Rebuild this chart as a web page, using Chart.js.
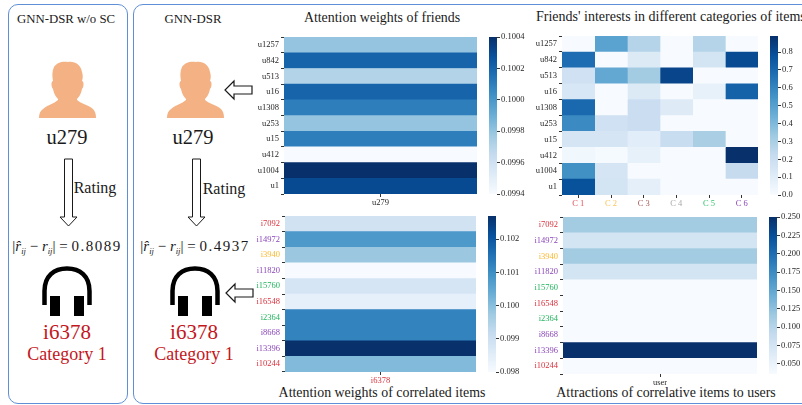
<!DOCTYPE html>
<html>
<head>
<meta charset="utf-8">
<title>GNN-DSR case study</title>
<script src="https://cdn.jsdelivr.net/npm/chart.js@4"></script>
<style>
    html, body { margin: 0; padding: 0; background: #fff; }
    body { position: relative; width: 802px; height: 405px; overflow: hidden; font-family: "Liberation Serif", serif; color: #1a1a1a; }
    canvas { position: absolute; }
    svg { position: absolute; overflow: visible; }
    .panel { position: absolute; border: 1px solid #5f8fd6; border-radius: 10px; box-sizing: border-box; }
    .t { position: absolute; white-space: nowrap; transform: translate(-50%, -50%); }
    .red { color: #c3171d; }
    .formula { font-size: 15px; }
    .formula sub { font-size: 8.5px; font-style: italic; vertical-align: -3px; line-height: 0; }
    .formula b { font-weight: normal; letter-spacing: 1.5px; }
</style>
</head>
<body>
<div class="panel" style="left:8px;top:4px;width:120px;height:400px"></div>
<div class="panel" style="left:133px;top:4px;width:690px;height:400px"></div>

<div class="t" style="left:66px;top:19px;font-size:12.8px">GNN-DSR w/o SC</div>
<div class="t" style="left:193px;top:19px;font-size:12.8px">GNN-DSR</div>
<div class="t" style="left:382px;top:18px;font-size:13.9px">Attention weights of friends</div>
<div class="t" style="left:536px;top:17px;font-size:14px;transform:translate(0,-50%)">Friends' interests in different categories of items</div>
<div class="t" style="left:382px;top:393px;font-size:13.9px">Attention weights of correlated items</div>
<div class="t" style="left:666px;top:393px;font-size:13.9px">Attractions of correlative items to users</div>

<div class="t" style="left:67px;top:137px;font-size:20.5px">u279</div>
<div class="t" style="left:193px;top:137px;font-size:20.5px">u279</div>
<div class="t" style="left:95px;top:188px;font-size:16px">Rating</div>
<div class="t" style="left:224px;top:189px;font-size:16px">Rating</div>
<div class="t formula" style="left:67px;top:246px">|<i>r&#770;</i><sub>ij</sub> &minus; <i>r</i><sub>ij</sub>| = <b>0.8089</b></div>
<div class="t formula" style="left:195px;top:246px">|<i>r&#770;</i><sub>ij</sub> &minus; <i>r</i><sub>ij</sub>| = <b>0.4937</b></div>
<div class="t red" style="left:67px;top:332px;font-size:21px">i6378</div>
<div class="t red" style="left:194px;top:332px;font-size:21px">i6378</div>
<div class="t red" style="left:67px;top:354px;font-size:18px">Category 1</div>
<div class="t red" style="left:194px;top:354px;font-size:18px">Category 1</div>

<svg width="0" height="0">
    <defs>
        <g id="person">
            <path fill="#f4b183" d="M15 6 C18 1 24 0 29 1 C36 0 42 4 43 11 C44 14 44 17 43 20 C45 20 45 26 43 28 C42 33 40 36 38 38 L38 39 C42 43 50 44 54 48 C56 50 57 53 57 57 L0 57 C0 53 1 50 4 48 C8 44 15 43 19 39 L19 38 C17 36 15 33 14 28 C12 26 12 20 14 20 C13 15 13 10 15 6 Z"/>
        </g>
        <g id="phones">
            <path fill="none" stroke="#000" stroke-width="4.5" d="M2.5 39 L2.5 25 C2.5 10 12 2.500 25 2.500 C38 2.500 47.500 10 47.500 25 L47.500 39"/>
            <rect x="8" y="30" width="10" height="20" fill="#000"/>
            <rect x="32" y="30" width="10" height="20" fill="#000"/>
        </g>
        <path id="down" fill="#fff" stroke="#1a1a1a" stroke-width="1" d="M4.500 0 L12.500 0 L12.500 58 L17 58 L8.500 67 L0 58 L4.500 58 Z"/>
        <path id="left" fill="#fff" stroke="#1a1a1a" stroke-width="1.2" d="M27 5 L9 5 L9 0 L0 9 L9 18 L9 13 L27 13 Z"/>
    </defs>
</svg>
<svg style="left:39px;top:61px" width="57" height="57"><use href="#person"/></svg>
<svg style="left:167px;top:61px" width="57" height="57"><use href="#person"/></svg>
<svg style="left:59.500px;top:159px" width="17" height="67"><use href="#down"/></svg>
<svg style="left:187.500px;top:159px" width="17" height="67"><use href="#down"/></svg>
<svg style="left:42px;top:266px" width="50" height="50"><use href="#phones"/></svg>
<svg style="left:170px;top:266px" width="50" height="50"><use href="#phones"/></svg>
<svg style="left:225px;top:81px" width="27" height="18"><use href="#left"/></svg>
<svg style="left:225.500px;top:284px" width="27" height="18"><use href="#left"/></svg>

<script>
const friendLabels = ['u1257', 'u842', 'u513', 'u16', 'u1308', 'u253', 'u15', 'u412', 'u1004', 'u1'];
const itemLabels = ['i7092', 'i14972', 'i3940', 'i11820', 'i15760', 'i16548', 'i2364', 'i8668', 'i13396', 'i10244'];
const categoryLabels = ['C 1', 'C 2', 'C 3', 'C 4', 'C 5', 'C 6'];

const categoryColors = ['#e2505a', '#fbc45a', '#a65a5a', '#a9a9a9', '#35c46c', '#8a47b8'];
const itemColors = ['#d9303c', '#8a47b8', '#fbb82e', '#8a47b8', '#22b35e', '#d9303c', '#22b35e', '#8a47b8', '#8a47b8', '#d9303c'];

// friend attention, one column (u279)
const friendWeights = [0.09980, 0.10020, 0.09971, 0.10020, 0.10010, 0.09980, 0.10010, 0.09940, 0.10040, 0.10030];

// friends x categories
const friendInterests = [
    [0.00, 0.49, 0.27, 0.00, 0.27, 0.00],
    [0.68, 0.00, 0.12, 0.00, 0.16, 0.80],
    [0.18, 0.47, 0.32, 0.82, 0.00, 0.00],
    [0.14, 0.00, 0.12, 0.00, 0.07, 0.72],
    [0.70, 0.00, 0.20, 0.11, 0.00, 0.00],
    [0.58, 0.18, 0.20, 0.00, 0.00, 0.00],
    [0.15, 0.15, 0.10, 0.21, 0.30, 0.00],
    [0.03, 0.01, 0.07, 0.00, 0.00, 0.89],
    [0.56, 0.15, 0.00, 0.00, 0.00, 0.22],
    [0.78, 0.16, 0.08, 0.00, 0.00, 0.00]
];

// item attention, one column (i6378)
const itemWeights = [0.0989, 0.1008, 0.0998, 0.0980, 0.0988, 0.0984, 0.1012, 0.1012, 0.1027, 0.1001];

// item attraction to the user, one column
const itemAttractions = [0.113, 0.075, 0.113, 0.075, 0.036, 0.036, 0.036, 0.036, 0.250, 0.036];

const friendWeightTicks = [0.0994, 0.0996, 0.0998, 0.1000, 0.1002, 0.1004];
const interestTicks = [0, 0.1, 0.2, 0.3, 0.4, 0.5, 0.6, 0.7, 0.8];
const itemWeightTicks = [0.098, 0.099, 0.100, 0.101, 0.102];
const attractionTicks = [0.05, 0.075, 0.1, 0.125, 0.15, 0.175, 0.2, 0.225, 0.25];

// matplotlib Blues
const blues = ['#f7fbff', '#deebf7', '#c6dbef', '#9ecae1', '#6baed6', '#4292c6', '#2171b5', '#08519c', '#08306b'];

function hexToRgb(hex) {
    return [1, 3, 5].map(i => parseInt(hex.slice(i, i + 2), 16));
}

function bluesColor(t) {
    const p = Math.min(Math.max(t, 0), 1) * (blues.length - 1);
    const i = Math.min(Math.floor(p), blues.length - 2);
    const a = hexToRgb(blues[i]);
    const b = hexToRgb(blues[i + 1]);
    const c = a.map((v, k) => Math.round(v + (b[k] - v) * (p - i)));
    return `rgb(${c[0]},${c[1]},${c[2]})`;
}

const tickFont = { family: '"Liberation Serif", serif', size: 8.5 };
const LABEL_W = 40;
const LABEL_H = 20;
const PAD = 7;

function addCanvas(left, top, width, height) {
    const c = document.createElement('canvas');
    c.width = width;
    c.height = height;
    c.style.left = left + 'px';
    c.style.top = top + 'px';
    document.body.appendChild(c);
    return c.getContext('2d');
}

// heatmap = stacked horizontal bars of equal length, one dataset per column
function heatmap(box, rows, rowColors, cols, colColors, matrix, min, max) {
    const ctx = addCanvas(box.x - LABEL_W, box.y - PAD, box.w + LABEL_W, box.h + LABEL_H + PAD);
    const datasets = cols.map((col, c) => ({
        label: col,
        data: rows.map(() => 1),
        backgroundColor: rows.map((r, i) => bluesColor((matrix[i][c] - min) / (max - min))),
        borderWidth: 0,
        barPercentage: 1,
        categoryPercentage: 1
    }));
    new Chart(ctx, {
        type: 'bar',
        data: { labels: rows, datasets },
        options: {
            indexAxis: 'y',
            responsive: false,
            animation: false,
            layout: { padding: { top: PAD } },
            plugins: { legend: { display: false }, tooltip: { enabled: false } },
            scales: {
                x: {
                    stacked: true,
                    min: 0,
                    max: cols.length,
                    afterFit: s => { s.height = LABEL_H; },
                    afterBuildTicks: s => { s.ticks = cols.map((col, i) => ({ value: i + 0.5 })); },
                    border: { display: false },
                    grid: { drawOnChartArea: false, tickLength: 3, color: '#333' },
                    ticks: {
                        autoSkip: false,
                        maxRotation: 0,
                        padding: 1,
                        font: tickFont,
                        color: c => colColors[c.index],
                        callback: (v, i) => cols[i]
                    }
                },
                y: {
                    stacked: true,
                    afterFit: s => { s.width = LABEL_W; },
                    border: { display: false },
                    grid: { drawOnChartArea: false, tickLength: 3, color: '#333' },
                    ticks: {
                        autoSkip: false,
                        padding: 2,
                        font: tickFont,
                        color: c => rowColors[c.index]
                    }
                }
            }
        }
    });
}

// colorbar = one floating bar from min to max with a gradient fill
function colorbar(box, min, max, ticks, digits) {
    const ctx = addCanvas(box.x, box.y - PAD, box.w + 36, box.h + 2 * PAD);
    new Chart(ctx, {
        type: 'bar',
        data: {
            labels: ['scale'],
            datasets: [{
                data: [[min, max]],
                borderWidth: 0,
                barPercentage: 1,
                categoryPercentage: 1,
                backgroundColor: c => {
                    const area = c.chart.chartArea;
                    if (!area) return blues[4];
                    const g = c.chart.ctx.createLinearGradient(0, area.bottom, 0, area.top);
                    blues.forEach((b, i) => g.addColorStop(i / (blues.length - 1), b));
                    return g;
                }
            }]
        },
        options: {
            responsive: false,
            animation: false,
            layout: { padding: { top: PAD, bottom: PAD } },
            plugins: { legend: { display: false }, tooltip: { enabled: false } },
            scales: {
                x: { display: false },
                y: {
                    position: 'right',
                    min,
                    max,
                    afterFit: s => { s.width = 36; },
                    afterBuildTicks: s => { s.ticks = ticks.map(v => ({ value: v })); },
                    border: { display: false },
                    grid: { drawOnChartArea: false, tickLength: 3, color: '#333' },
                    ticks: {
                        autoSkip: false,
                        padding: 1,
                        font: tickFont,
                        color: '#262626',
                        callback: v => v.toFixed(digits)
                    }
                }
            }
        }
    });
}

const darkLabels = friendLabels.map(() => '#262626');
const column = values => values.map(v => [v]);

heatmap({ x: 284, y: 37, w: 193, h: 157 }, friendLabels, darkLabels, ['u279'], ['#262626'], column(friendWeights), 0.0994, 0.1004);
colorbar({ x: 489, y: 37, w: 8, h: 157 }, 0.0994, 0.1004, friendWeightTicks, 4);

heatmap({ x: 562, y: 36, w: 196, h: 159 }, friendLabels, darkLabels, categoryLabels, categoryColors, friendInterests, 0, 0.89);
colorbar({ x: 770, y: 36, w: 8, h: 159 }, 0, 0.89, interestTicks, 1);

heatmap({ x: 285, y: 216, w: 191, h: 156 }, itemLabels, itemColors, ['i6378'], ['#d9303c'], column(itemWeights), 0.098, 0.1027);
colorbar({ x: 488, y: 216, w: 8, h: 156 }, 0.098, 0.1027, itemWeightTicks, 3);

heatmap({ x: 563, y: 217, w: 194, h: 157 }, itemLabels, itemColors, ['user'], ['#262626'], column(itemAttractions), 0.036, 0.25);
colorbar({ x: 769, y: 217, w: 8, h: 157 }, 0.036, 0.25, attractionTicks, 3);
</script>
</body>
</html>
